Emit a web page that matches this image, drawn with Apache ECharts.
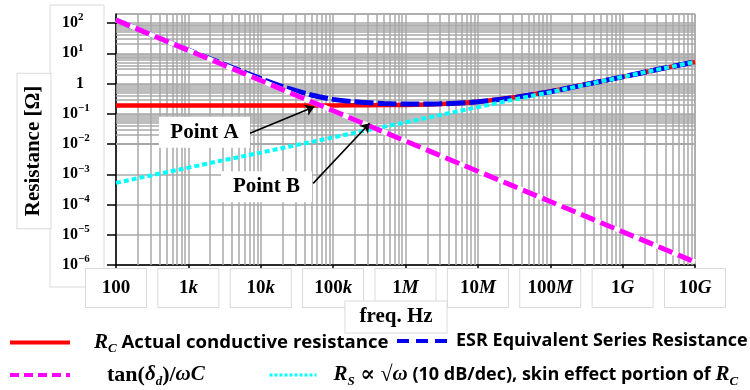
<!DOCTYPE html>
<html>
<head>
<meta charset="utf-8">
<script src="https://cdn.jsdelivr.net/npm/echarts@6.0.0/dist/echarts.min.js"></script>
<style>
  html, body { margin: 0; padding: 0; background: #fff; }
  #chart { width: 750px; height: 390px; }
</style>
</head>
<body>
<div id="chart"></div>
<script>
// values
const freq = [1e2, 3e2, 1e3, 3e3, 1e4, 3e4, 1e5, 3e5, 1e6, 3e6, 1e7, 3e7, 1e8, 3e8, 1e9, 3e9, 1e10];
const rcVals = [0.19, 0.19, 0.19, 0.19, 0.19, 0.19, 0.19, 0.192, 0.197, 0.211, 0.252, 0.347, 0.553, 0.93, 1.67, 2.91, 5.2];
const tanVals = [126, 42, 12.6, 4.2, 1.26, 0.42, 0.126, 0.042, 0.0126, 4.2e-3, 1.26e-3, 4.2e-4, 1.26e-4, 4.2e-5, 1.26e-5, 4.2e-6, 1.26e-6];
const rsVals = [5.2e-4, 9.1e-4, 1.66e-3, 2.9e-3, 5.2e-3, 9.1e-3, 0.0166, 0.029, 0.052, 0.091, 0.166, 0.29, 0.52, 0.91, 1.66, 2.9, 5.2];
const esrFreq = [1e2, 1e3, 1e4, 2e4, 5e4, 1e5, 2e5, 5e5, 1e6, 3e6, 1e7, 3e7, 1e8, 3e8, 1e9, 3e9, 1e10];
const esrVals = [126.2, 12.8, 1.45, 0.8, 0.42, 0.3, 0.25, 0.218, 0.21, 0.214, 0.25, 0.34, 0.54, 0.92, 1.67, 2.91, 5.2];

const xTickLabels = { 2: ['100', ''], 3: ['1', 'k'], 4: ['10', 'k'], 5: ['100', 'k'], 6: ['1', 'M'], 7: ['10', 'M'], 8: ['100', 'M'], 9: ['1', 'G'], 10: ['10', 'G'] };
const minorSteps = [2, 3, 4, 5, 6, 7, 8, 9];

// annotation anchors (data coords)
const pointA = { label: 'Point A', box: [1.67e3, 0.0247], from: [7.1e3, 0.0229], to: [5.5e4, 0.17] };
const pointB = { label: 'Point B', box: [1.2e4, 3.84e-4], from: [5.3e4, 5.0e-4], to: [3.2e5, 0.049] };

const SERIF = '"Liberation Serif", "DejaVu Serif", serif';
const SANS = '"Open Sans", Lato, sans-serif';

const zip = (xs, ys) => xs.map((x, i) => [x, ys[i]]);

const gridLines = [];
for (let e = 2; e < 10; e++) minorSteps.forEach(m => gridLines.push({ xAxis: m * Math.pow(10, e) }));
for (let e = -6; e < 3; e++) minorSteps.forEach(m => { const v = m * Math.pow(10, e); if (v < 200) gridLines.push({ yAxis: v }); });

const legendRich = {
  it: { fontFamily: SERIF, fontStyle: 'italic', fontWeight: 'bold', fontSize: 21, lineHeight: 26, color: '#000' },
  sub: { fontFamily: SERIF, fontStyle: 'italic', fontWeight: 'bold', fontSize: 13, lineHeight: 14, verticalAlign: 'bottom', color: '#000' },
  ser: { fontFamily: SERIF, fontWeight: 'bold', fontSize: 22, lineHeight: 26, color: '#000' },
  sans: { fontFamily: SANS, fontWeight: 'bold', fontSize: 18, lineHeight: 26, color: '#000' },
  sansL: { fontFamily: SANS, fontWeight: 'bold', fontSize: 18.6, lineHeight: 26, color: '#000' }
};
const legendText = {
  rc: '{it|R}{sub|C}{sansL| Actual conductive resistance}',
  esr: '{sans|ESR Equivalent Series Resistance}',
  tan: '{ser|tan(}{it|δ}{sub|d}{ser|)/}{it|ωC}',
  rs: '{it|R}{sub|S}{ser| ∝ √}{it|ω}{sans| (10 dB/dec), skin effect portion of }{it|R}{sub|C}'
};
function mkLegend(name, left, top, w, pad, dash) {
  return {
    data: [name], left: left, top: top, itemWidth: w, itemHeight: 14,
    selectedMode: false, padding: 0,
    lineStyle: { width: name === 'rs' ? 3 : 4, type: dash },
    itemStyle: { opacity: 0 },
    formatter: n => legendText[n],
    textStyle: { rich: legendRich, padding: [0, 0, 0, pad] }
  };
}

const nameBox = { fill: '#000', backgroundColor: '#fff', borderColor: '#dadada', borderWidth: 1, fontFamily: SERIF, fontWeight: 'bold', fontSize: 21, align: 'center', verticalAlign: 'middle' };

const chart = echarts.init(document.getElementById('chart'));
chart.setOption({
  animation: false,
  grid: { left: 116, right: 55, top: 14, bottom: 125, show: true, borderColor: '#8c8c8c', borderWidth: 1 },
  graphic: [
    { type: 'rect', shape: { x: 50, y: 5, width: 54, height: 282 }, style: { fill: '#fff', stroke: '#dadada', lineWidth: 1 }, z: -1 },
    { type: 'text', x: 34, y: 151, rotation: Math.PI / 2, z: 5, style: Object.assign({ text: 'Resistance [Ω]', padding: [6, 12, 6, 12] }, nameBox) },
    { type: 'text', x: 396, y: 317, z: 5, style: Object.assign({ text: 'freq. Hz', padding: [5, 14, 5, 14] }, nameBox) }
  ],
  legend: [
    mkLegend('rc', 8, 332, 60, 19, 'solid'),
    mkLegend('esr', 395, 332, 50, 4, [12, 7]),
    mkLegend('tan', 8, 364, 60, 32, [9, 5]),
    mkLegend('rs', 268, 364, 47, 12, [3, 2])
  ],
  xAxis: {
    type: 'log', logBase: 10, min: 1e2, max: 1e10, splitNumber: 8,
    axisLine: { lineStyle: { color: '#000', width: 1.5 } },
    axisTick: { show: true, length: 5, lineStyle: { color: '#000', width: 1.5 } },
    splitLine: { show: true, lineStyle: { color: '#a9a9a9', width: 1.5 } },
    axisLabel: {
      margin: 4, width: 60, height: 38, lineHeight: 38, align: 'center',
      backgroundColor: '#fff', borderColor: '#dadada', borderWidth: 1,
      formatter: v => { const t = xTickLabels[Math.round(Math.log10(v))]; return t ? '{n|' + t[0] + '}' + (t[1] ? '{u|' + t[1] + '}' : '') : ''; },
      rich: {
        n: { fontFamily: SERIF, fontWeight: 'bold', fontSize: 19, color: '#000' },
        u: { fontFamily: SERIF, fontWeight: 'bold', fontStyle: 'italic', fontSize: 19, color: '#000' }
      }
    }
  },
  yAxis: {
    type: 'log', logBase: 10, min: 1e-6, max: 200, splitNumber: 9,
    axisLine: { lineStyle: { color: '#000', width: 1.5 } },
    axisTick: { show: true, length: 9, lineStyle: { color: '#000', width: 1.5 } },
    splitLine: { show: true, lineStyle: { color: '#a9a9a9', width: 1.5 } },
    axisLabel: {
      margin: 54, align: 'left', showMaxLabel: false,
      formatter: v => {
        const e = Math.round(Math.log10(v));
        if (e === 0) return '{one|1}';
        return '{b|10}{sup|' + (e < 0 ? '−' + (-e) : e) + '}';
      },
      rich: {
        b: { fontFamily: SERIF, fontWeight: 'bold', fontSize: 16, lineHeight: 22, color: '#000' },
        one: { fontFamily: SERIF, fontWeight: 'bold', fontSize: 16, lineHeight: 22, width: 36, align: 'center', color: '#000' },
        sup: { fontFamily: SERIF, fontWeight: 'bold', fontSize: 11, lineHeight: 11, verticalAlign: 'top', color: '#000' }
      }
    }
  },
  series: [
    {
      name: 'grid', type: 'line', data: [], z: 1, silent: true,
      markLine: { z: 1, silent: true, symbol: 'none', label: { show: false }, lineStyle: { color: '#a9a9a9', width: 1.5, type: 'solid' }, data: gridLines }
    },
    { name: 'rc', type: 'line', z: 2, data: zip(freq, rcVals), showSymbol: false, symbol: 'none', smooth: 0.3, lineStyle: { color: '#ff0000', width: 4.5 }, itemStyle: { color: '#ff0000' } },
    { name: 'esr', type: 'line', z: 3, data: zip(esrFreq, esrVals), showSymbol: false, symbol: 'none', smooth: 0.3, lineStyle: { color: '#0000ee', width: 5, type: [19, 4] }, itemStyle: { color: '#1a3fc8' } },
    { name: 'rs', type: 'line', z: 4, data: zip(freq, rsVals), showSymbol: false, symbol: 'none', lineStyle: { color: '#00ffff', width: 4, type: [5, 3] }, itemStyle: { color: '#33e0e0' } },
    { name: 'tanBase', type: 'line', z: 5, data: zip(freq, tanVals), showSymbol: false, symbol: 'none', lineStyle: { color: '#ffffff', width: 5 } },
    { name: 'tan', type: 'line', z: 6, data: zip(freq, tanVals), showSymbol: false, symbol: 'none', lineStyle: { color: '#ff00ff', width: 5, type: [15, 6] }, itemStyle: { color: '#ff00ff' } },
    {
      name: 'notes', type: 'line', data: [], z: 7, silent: true,
      markLine: {
        z: 8, silent: true, symbol: ['none', 'arrow'], symbolSize: 9, label: { show: false },
        lineStyle: { color: '#000', width: 1.6, type: 'solid' },
        data: [pointA, pointB].map(p => [{ coord: p.from }, { coord: p.to }])
      },
      markPoint: {
        z: 8, silent: true, symbol: 'rect', symbolSize: [91, 31],
        itemStyle: { color: '#fff' },
        label: { show: true, position: 'inside', formatter: p => p.name, fontFamily: SERIF, fontWeight: 'bold', fontSize: 21, color: '#000' },
        data: [pointA, pointB].map(p => ({ name: p.label, coord: p.box }))
      }
    }
  ]
});
</script>
</body>
</html>
